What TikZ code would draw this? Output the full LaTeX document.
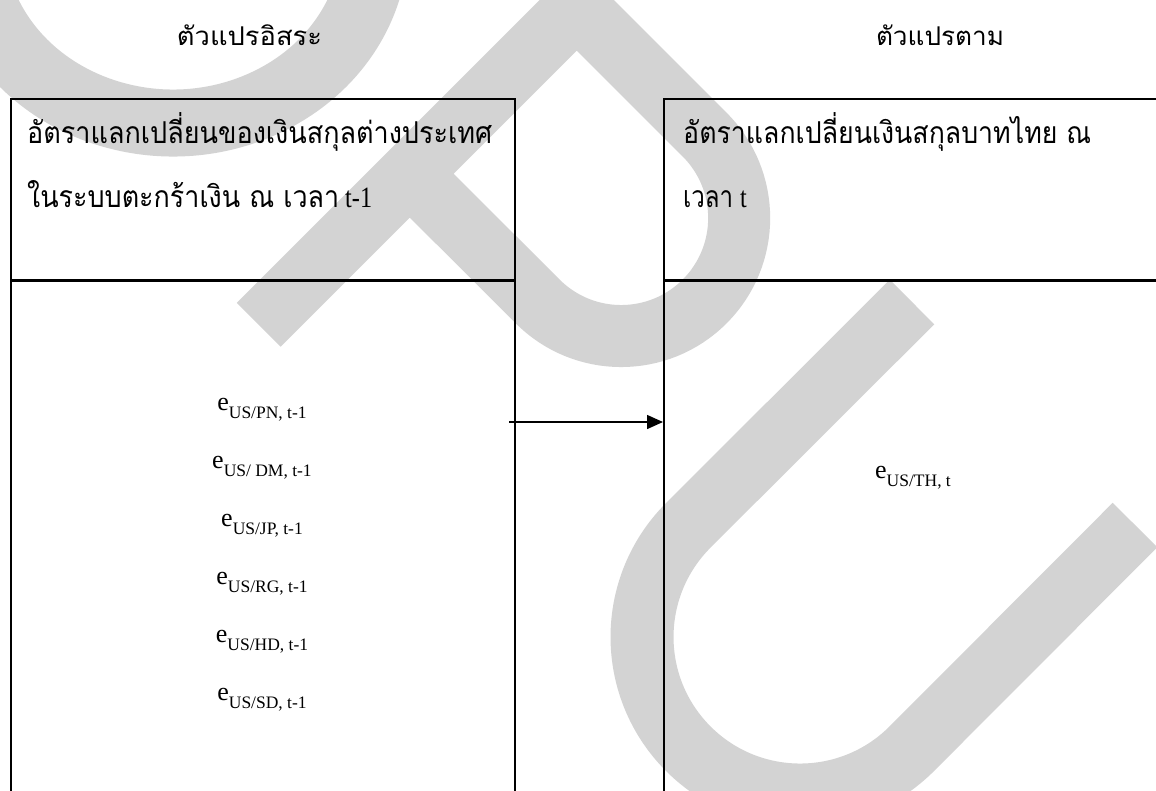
\documentclass[tikz,border=0pt]{standalone}
\usepackage{fontspec}
\usepackage{graphicx}
\setmainfont{Liberation Serif}
\newfontfamily\thaifont[Script=Thai]{Loma}
\usetikzlibrary{arrows.meta}
\definecolor{wm}{RGB}{211,211,211}
\newlength\thh
\settoheight\thh{\thaifont\fontsize{10pt}{10pt}\selectfont อ}
\pgfmathsetmacro\hdsz{10*16.9/\thh}
\pgfmathsetmacro\ttsz{10*14.5/\thh}
\newcommand{\thw}[3]{\resizebox{#1pt}{\height}{\thaifont\fontsize{#2pt}{#2pt}\selectfont #3}}
\newcommand{\latw}[1]{\scalebox{0.82}[1]{\fontsize{29.5pt}{32pt}\selectfont #1}}
\newcommand{\ev}[1]{{\fontsize{26pt}{30pt}\selectfont e}\raisebox{-8.5pt}{\fontsize{17.5pt}{20pt}\selectfont #1}}
\begin{document}
\begin{tikzpicture}[x=1pt,y=-1pt,
  box/.style={draw, line width=1.5pt, rectangle, inner sep=0pt, anchor=north west},
  lbl/.style={inner sep=0pt, anchor=base west},
  ttl/.style={inner sep=0pt, anchor=base},
  var/.style={inner sep=0pt, anchor=base},
  wmk/.style={draw=wm, line cap=butt},
  arr/.style={line width=1.5pt, -{Triangle[length=16pt,width=14pt]}}]
\useasboundingbox (0,0) rectangle (1156,790);
% watermark
\begin{scope}
\clip (0,0) rectangle (1156,790);
\draw[wmk, line width=67pt] (173,-60) ++(-25:202 and 183) arc[start angle=-25, end angle=205, x radius=202, y radius=183];
\draw[wmk, line width=62pt, line join=miter] (258.75,324.75) -- (576.75,6.75) -- (704.6,134.6) arc[start angle=-45, end angle=135, radius=118] -- (413,177);
\draw[wmk, line width=63pt] (912,302) -- (688.3,525.3) arc[start angle=225, end angle=45, radius=158] -- (1135,525);
\end{scope}
% boxes
\node[box, minimum width=504pt, minimum height=181pt] (lhead) at (10,98) {};
\node[box, minimum width=504pt, minimum height=540pt] (lbody) at (lhead.south west) {};
\node[box, minimum width=560pt, minimum height=181pt] (rhead) at (663,98) {};
\node[box, minimum width=560pt, minimum height=540pt] (rbody) at (rhead.south west) {};
% titles
\node[ttl] (t1) at (249.5,45) {\thw{145}{\ttsz}{ตัวแปรอิสระ}};
\node[ttl] (t2) at (940,45) {\thw{128}{\ttsz}{ตัวแปรตาม}};
% header texts
\node[lbl] (l1) at (27,143) {\thw{465}{\hdsz}{อัตราแลกเปลี่ยนของเงินสกุลต่างประเทศ}};
\node[lbl] (l2) at (27,207) {\thw{312}{\hdsz}{ในระบบตะกร้าเงิน ณ เวลา}\kern6pt\latw{t-1}};
\node[lbl] (r1) at (683,143) {\thw{408}{\hdsz}{อัตราแลกเปลี่ยนเงินสกุลบาทไทย ณ}};
\node[lbl] (r2) at (683,207) {\thw{50}{\hdsz}{เวลา}\kern7pt\latw{t}};
% variables
\node[var] (v1) at (262,410) {\ev{US/PN, t-1}};
\node[var] (v2) at (262,468) {\ev{US/ DM, t-1}};
\node[var] (v3) at (262,526) {\ev{US/JP, t-1}};
\node[var] (v4) at (262,584) {\ev{US/RG, t-1}};
\node[var] (v5) at (262,642) {\ev{US/HD, t-1}};
\node[var] (v6) at (262,700) {\ev{US/SD, t-1}};
\node[var] (v7) at (913,478) {\ev{US/TH, t}};
% arrow
\coordinate (src) at (509,422);
\draw[arr] (src) -- (rbody.west |- src);
\end{tikzpicture}
\end{document}
